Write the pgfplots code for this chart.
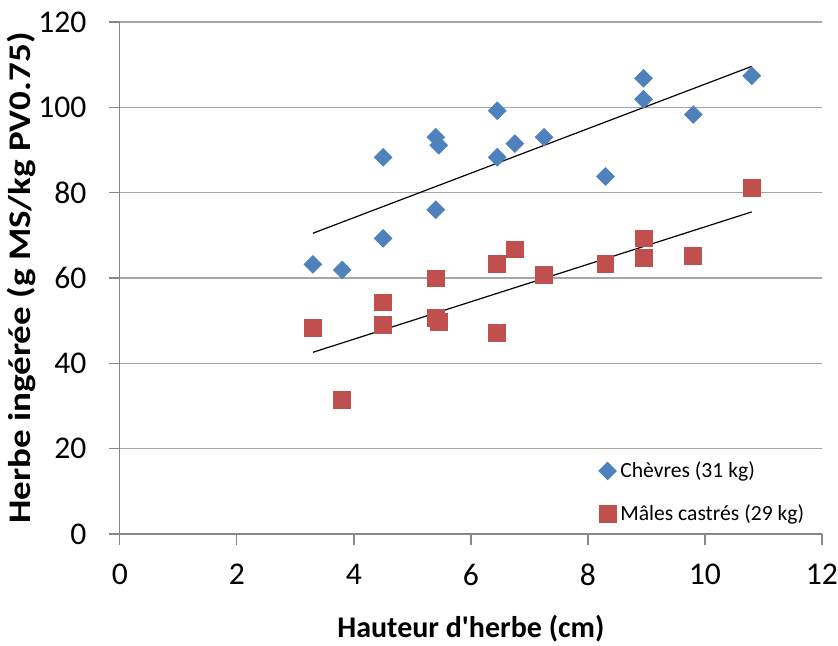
\documentclass[border=0pt]{standalone}
\usepackage{pgfplots}
\pgfplotsset{compat=1.18}
\usepackage{fontspec}
\setmainfont{Carlito}
\definecolor{cblue}{HTML}{4F81BD}
\definecolor{cred}{HTML}{C0504D}
\definecolor{cgrid}{HTML}{A6A6A6}
\definecolor{caxis}{HTML}{888888}
\begin{document}
\begin{tikzpicture}
\begin{axis}[
  scale only axis,
  width=351pt, height=256pt,
  xmin=0, xmax=12, ymin=0, ymax=120,
  xtick={0,2,...,12}, ytick={0,20,...,120},
  axis x line=bottom, axis y line=left,
  axis line style={caxis, line width=0.6pt, -},
  tick align=outside, major tick length=5.5pt,
  tick style={caxis, line width=0.6pt},
  ymajorgrids, grid style={cgrid, line width=0.6pt},
  /pgf/number format/assume math mode=true,
  ticklabel style={font=\fontsize{15.8}{18}\selectfont, text=black, inner xsep=0pt},
  xticklabel style={yshift=-5.9pt},
  yticklabel style={xshift=-11pt},
  xlabel={\textbf{Hauteur d\textquotesingle herbe (cm)}},
  ylabel={\scalebox{1}[0.85]{\textbf{Herbe ingérée (g MS/kg PV0.75)}}},
  xlabel style={font=\fontsize{15}{18}\selectfont, inner ysep=0pt, yshift=-11pt},
  ylabel style={font=\fontsize{18.5}{22}\selectfont, yshift=-2pt},
  legend style={draw=none, fill=none, at={(0.673,0.158)}, anchor=north west,
    font=\fontsize{10.8}{13}\selectfont, row sep=8pt,
    legend cell align=left},
  legend image code/.code={\draw[#1] plot coordinates {(0.15cm,0cm)};},
  clip=false,
]
\addplot[only marks, mark=square*, mark size=3.1pt, mark options={rotate=45, fill=cblue, draw=cblue}]
coordinates {
(3.3,63.2) (3.8,61.9) (4.5,88.3) (4.5,69.3) (5.4,93.0) (5.45,91.1) (5.4,76.0)
(6.45,99.2) (6.45,88.3) (6.75,91.5) (7.25,93.0) (8.3,83.8) (8.95,106.8)
(8.95,101.9) (9.8,98.3) (10.8,107.4)
};
\addlegendentry{Chèvres (31 kg)}
\addplot[only marks, mark=square*, mark size=4.2pt, mark options={fill=cred, draw=cred}]
coordinates {
(3.3,48.3) (3.8,31.4) (4.5,54.3) (4.5,49.1) (5.4,59.9) (5.4,50.6) (5.45,49.7)
(6.45,63.3) (6.45,47.2) (6.75,66.7) (7.25,60.7) (8.3,63.3) (8.95,69.3)
(8.95,64.8) (9.8,65.2) (10.8,81.1)
};
\addlegendentry{Mâles castrés (29 kg)}
\addplot[black, line width=0.6pt, forget plot] coordinates {(3.3,70.5) (10.8,109.6)};
\addplot[black, line width=0.6pt, forget plot] coordinates {(3.3,42.6) (10.8,75.5)};
\path (rel axis cs:0,1) -- ++(0,11pt);
\path (rel axis cs:0.5,0) -- ++(0,-55.5pt);
\end{axis}
\end{tikzpicture}
\end{document}
